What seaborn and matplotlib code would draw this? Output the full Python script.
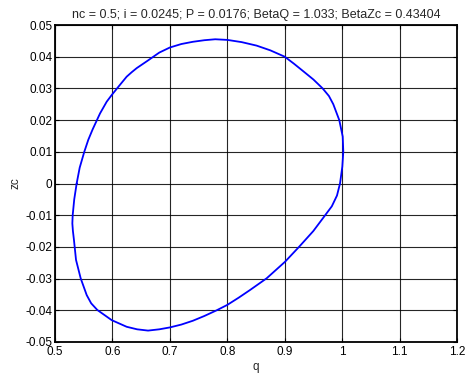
import matplotlib
matplotlib.use("Agg")
import matplotlib.pyplot as plt
import seaborn as sns
import pandas as pd

# Traced closed curve (q, zc)
q = [0.5377, 0.543, 0.551, 0.558, 0.5656, 0.5784, 0.590, 0.5987, 0.6103, 0.6248,
     0.6335, 0.6423, 0.661, 0.6816, 0.700, 0.720, 0.740, 0.760, 0.779, 0.800,
     0.825, 0.851, 0.875, 0.900, 0.916, 0.9324, 0.950, 0.966, 0.977, 0.9846,
     0.995, 1.001, 1.002, 1.0003, 0.9963, 0.991, 0.982, 0.9684, 0.9498, 0.9254,
     0.9005, 0.8686, 0.8396, 0.820, 0.800, 0.7815, 0.760, 0.740, 0.720, 0.700,
     0.6816, 0.662, 0.643, 0.6248, 0.5987, 0.5737, 0.563, 0.5552, 0.5447, 0.5366,
     0.533, 0.5312, 0.5302, 0.5308, 0.5335, 0.5377]
zc = [0.000, 0.005, 0.010, 0.0138, 0.0171, 0.0221, 0.0258, 0.0279, 0.0305, 0.0337,
      0.0351, 0.0364, 0.0387, 0.0413, 0.0429, 0.0440, 0.0447, 0.0452, 0.0455, 0.0453,
      0.0446, 0.0435, 0.0420, 0.0400, 0.0378, 0.0354, 0.0328, 0.0300, 0.0276, 0.0250,
      0.0200, 0.0148, 0.0100, 0.0053, 0.000, -0.0038, -0.0072, -0.0105, -0.0150, -0.0199,
      -0.0247, -0.0299, -0.0336, -0.0360, -0.0383, -0.0400, -0.0418, -0.0433, -0.0445, -0.0454,
      -0.0460, -0.0464, -0.0460, -0.0452, -0.0431, -0.0399, -0.0378, -0.0352, -0.0299, -0.0241,
      -0.0178, -0.0150, -0.0126, -0.0100, -0.0050, 0.000]

x_ticks = [0.5, 0.6, 0.7, 0.8, 0.9, 1.0, 1.1, 1.2]
x_labels = ["0.5", "0.6", "0.7", "0.8", "0.9", "1", "1.1", "1.2"]
y_ticks = [-0.05, -0.04, -0.03, -0.02, -0.01, 0.0, 0.01, 0.02, 0.03, 0.04, 0.05]
y_labels = ["-0.05", "-0.04", "-0.03", "-0.02", "-0.01", "0", "0.01", "0.02", "0.03", "0.04", "0.05"]
title = "nc = 0.5; i = 0.0245; P = 0.0176; BetaQ = 1.033; BetaZc = 0.43404"

sns.set_style("white")
plt.rcParams["font.family"] = ["Liberation Sans", "DejaVu Sans"]

fig = plt.figure(figsize=(4.67, 3.74), dpi=100)
ax = fig.add_axes([55 / 467, 32 / 374, 402 / 467, 317 / 374])

df = pd.DataFrame({"q": q, "zc": zc})
sns.lineplot(data=df, x="q", y="zc", sort=False, estimator=None,
             color="#0000ff", linewidth=1.3, ax=ax)

ax.set_xlim(0.5, 1.2)
ax.set_ylim(-0.05, 0.05)
ax.set_xticks(x_ticks)
ax.set_xticklabels(x_labels)
ax.set_yticks(y_ticks)
ax.set_yticklabels(y_labels)
ax.grid(True, color="black", linewidth=0.8, linestyle="-", alpha=0.85)
ax.set_axisbelow(True)
for s in ax.spines.values():
    s.set_visible(True)
    s.set_color("black")
    s.set_linewidth(1.3)
ax.tick_params(direction="in", length=3, width=0.8, labelsize=8.5, colors="black",
               top=True, right=True, bottom=True, left=True)
ax.tick_params(axis="x", pad=3)
ax.tick_params(axis="y", pad=2)
ax.set_xlabel("q", fontsize=8.5, labelpad=2)
ax.set_ylabel("zc", fontsize=8.5, labelpad=3)
ax.set_title(title, fontsize=9, pad=5)

fig.savefig("out.png", dpi=100)
